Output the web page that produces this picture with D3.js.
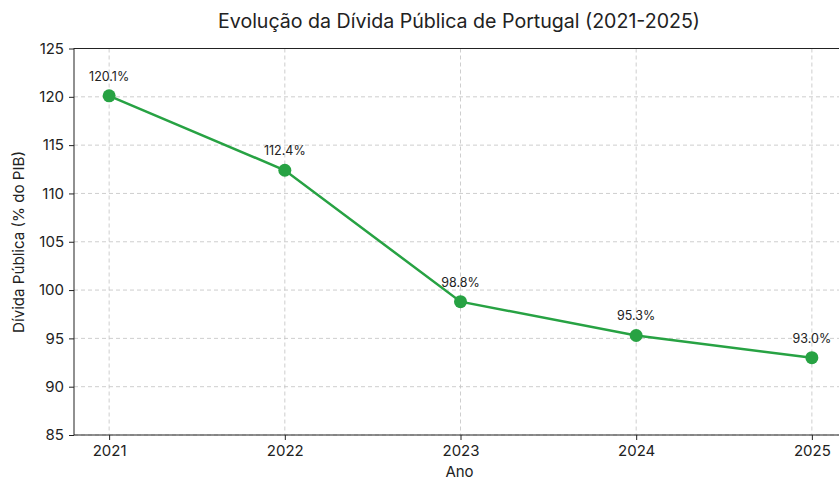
<!DOCTYPE html>
<html><head><meta charset="utf-8">
<script src="https://cdn.jsdelivr.net/npm/d3@7"></script>
<style>body{margin:0;background:#fff}svg{display:block;font-family:Inter,"Open Sans",sans-serif}</style>
</head><body><svg id="c" width="839" height="481"></svg>
<script>
const years = [2021, 2022, 2023, 2024, 2025];
const debt = [120.1, 112.4, 98.8, 95.3, 93.0];
const yTicks = [85, 90, 95, 100, 105, 110, 115, 120, 125];
const title = "Evolução da Dívida Pública de Portugal (2021-2025)";
const xLabel = "Ano";
const yLabel = "Dívida Pública (% do PIB)";

const svg = d3.select("#c");
const L = 74, R = 847, T = 48.5, B = 435;
const x = d3.scaleLinear().domain([2020.8, 2025.2]).range([L, R]);
const y = d3.scaleLinear().domain([85, 125]).range([B, T]);
const color = "#27a243";
const FF = "Inter, sans-serif";

function fitWidth(sel, target, base) {
  const w = sel.node().getComputedTextLength();
  if (w > 0) sel.style("font-size", (base * target / w).toFixed(2) + "px");
}

const g = svg.append("g");
g.selectAll(".gy").data(yTicks).join("line")
  .attr("x1", L).attr("x2", R).attr("y1", d => y(d)).attr("y2", d => y(d))
  .attr("stroke", "#c8c8c8").attr("stroke-width", 0.9).attr("stroke-dasharray", "4,3");
g.selectAll(".gx").data(years).join("line")
  .attr("y1", T).attr("y2", B).attr("x1", d => x(d)).attr("x2", d => x(d))
  .attr("stroke", "#c8c8c8").attr("stroke-width", 0.9).attr("stroke-dasharray", "4,3");

const xAxis = d3.axisBottom(x).tickValues(years).tickFormat(d3.format("d")).tickSize(5).tickPadding(5);
const yAxis = d3.axisLeft(y).tickValues(yTicks).tickSize(5).tickPadding(5);
const xa = svg.append("g").attr("transform", `translate(0,${B})`).call(xAxis);
const ya = svg.append("g").attr("transform", `translate(${L},0)`).call(yAxis);
[xa, ya].forEach(a => {
  a.select(".domain").remove();
  a.selectAll("line").attr("stroke", "#222");
  a.selectAll("text").attr("fill", "#222").style("font-size", "15px").style("font-family", FF);
});
svg.append("rect").attr("x", L).attr("y", T).attr("width", R - L).attr("height", B - T)
  .attr("fill", "none").attr("stroke", "#222").attr("stroke-width", 1);

const pts = years.map((d, i) => [d, debt[i]]);
svg.append("path").datum(pts)
  .attr("d", d3.line().x(d => x(d[0])).y(d => y(d[1])))
  .attr("fill", "none").attr("stroke", color).attr("stroke-width", 2.5);
svg.selectAll(".pt").data(pts).join("circle")
  .attr("cx", d => x(d[0])).attr("cy", d => y(d[1])).attr("r", 6.5).attr("fill", color);
svg.selectAll(".lbl").data(pts).join("text")
  .attr("x", d => x(d[0])).attr("y", d => y(d[1]) - 15)
  .attr("text-anchor", "middle").attr("fill", "#222").style("font-size", "12.5px")
  .text(d => d[1].toFixed(1) + "%");

const tt = svg.append("text").attr("x", 459).attr("y", 28).attr("text-anchor", "middle")
  .attr("fill", "#222").style("font-size", "19px").text(title);
fitWidth(tt, 482, 19);
svg.append("text").attr("x", 459.5).attr("y", 476.5).attr("text-anchor", "middle")
  .attr("fill", "#222").style("font-size", "15px").text(xLabel);
const yl = svg.append("text").attr("transform", `translate(24,242) rotate(-90)`).attr("text-anchor", "middle")
  .attr("fill", "#222").style("font-size", "15px").text(yLabel);
fitWidth(yl, 182, 15);
</script></body></html>
